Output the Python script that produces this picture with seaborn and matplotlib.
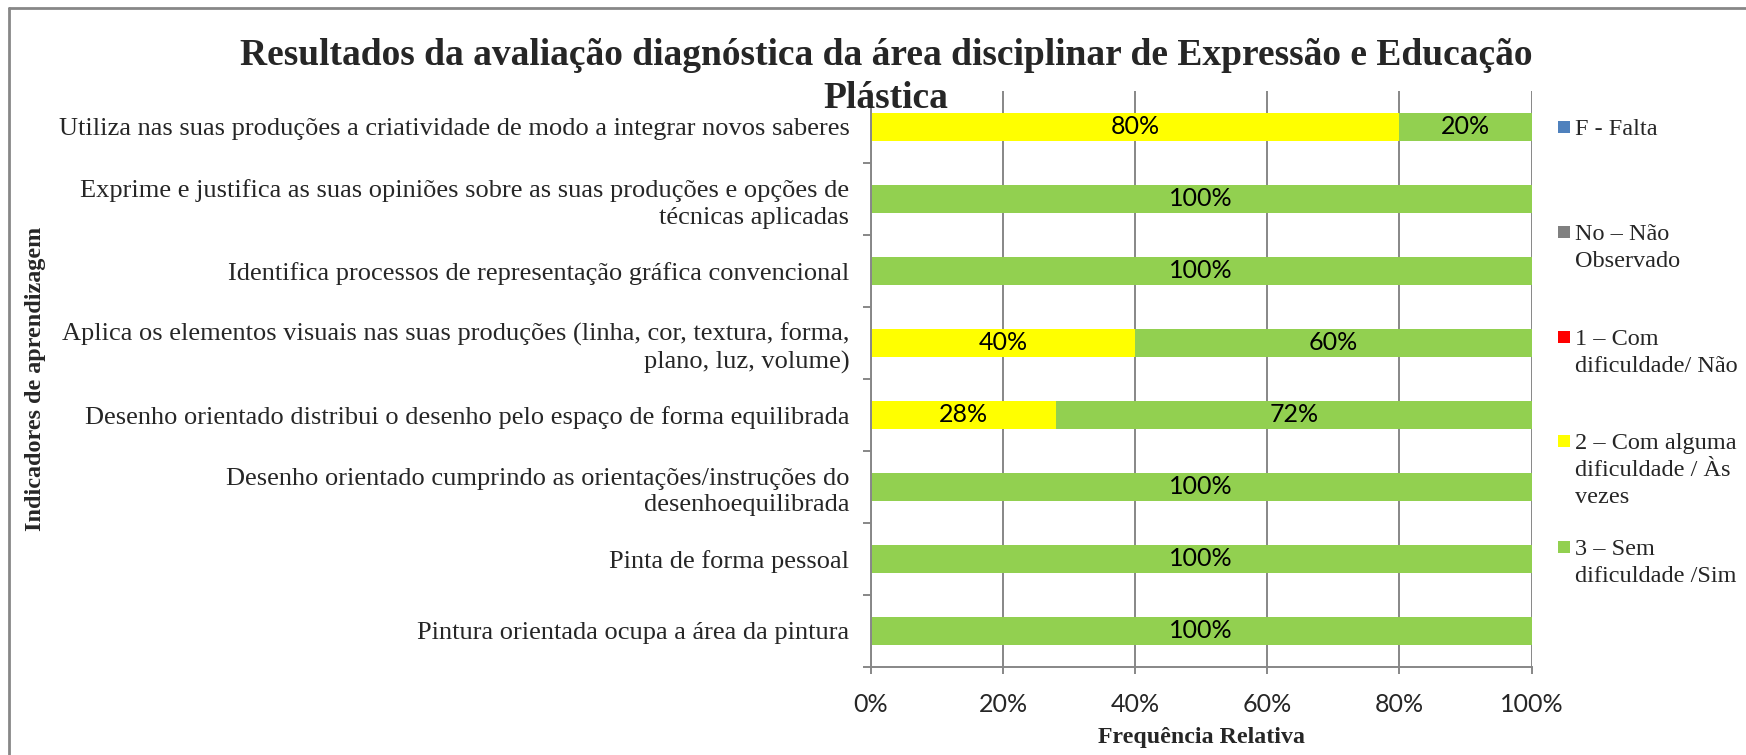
import matplotlib
matplotlib.use("Agg")
import matplotlib.pyplot as plt
import seaborn as sns
import numpy as np
import pandas as pd
from matplotlib.lines import Line2D
from matplotlib.patches import Rectangle

# ---------------- data ----------------
title = "Resultados da avaliação diagnóstica da área disciplinar de Expressão e Educação\nPlástica"
categories = [
    "Utiliza nas suas produções a criatividade de modo a integrar novos saberes",
    "Exprime e justifica as suas opiniões sobre as suas produções e opções de\ntécnicas aplicadas",
    "Identifica processos de representação gráfica convencional",
    "Aplica os elementos visuais nas suas produções (linha, cor, textura, forma,\nplano, luz, volume)",
    "Desenho orientado distribui o desenho pelo espaço de forma equilibrada",
    "Desenho orientado cumprindo as orientações/instruções do\ndesenhoequilibrada",
    "Pinta de forma pessoal",
    "Pintura orientada ocupa a área da pintura",
]
series_names = [
    "F - Falta",
    "No – Não\nObservado",
    "1 – Com\ndificuldade/ Não",
    "2 – Com alguma\ndificuldade / Às\nvezes",
    "3 – Sem\ndificuldade /Sim",
]
falta = [0, 0, 0, 0, 0, 0, 0, 0]
nao_observado = [0, 0, 0, 0, 0, 0, 0, 0]
com_dificuldade = [0, 0, 0, 0, 0, 0, 0, 0]
alguma_dificuldade = [80, 0, 0, 40, 28, 0, 0, 0]
sem_dificuldade = [20, 100, 100, 60, 72, 100, 100, 100]
x_ticks = [0, 20, 40, 60, 80, 100]
x_label = "Frequência Relativa"
y_label = "Indicadores de aprendizagem"

colors = ["#4F81BD", "#808080", "#FF0000", "#FFFF00", "#92D050"]

# ---------------- style ----------------
sns.set_style("white")
SERIF = ["Liberation Serif", "DejaVu Serif"]
SANS = ["Liberation Sans Narrow", "Lato", "DejaVu Sans"]
plt.rcParams["font.family"] = SERIF
GRAY = "#878787"

series = [falta, nao_observado, com_dificuldade, alguma_dificuldade, sem_dificuldade]
df = pd.DataFrame({"Indicador": categories})
cum = np.zeros(len(categories))
for name, vals in zip(series_names, series):
    cum = cum + np.array(vals, dtype=float)
    df[name] = cum.copy()

W, H = 1746, 755
fig = plt.figure(figsize=(W / 100, H / 100), dpi=100)
ax = fig.add_axes([871 / W, 1 - 667 / H, 660.5 / W, 576 / H])

# stacked bars: draw cumulative totals from outermost to innermost
for name, col in reversed(list(zip(series_names, colors))):
    sns.barplot(data=df, x=name, y="Indicador", color=col, saturation=1,
                width=0.4, orient="h", errorbar=None, ax=ax,
                edgecolor="none", linewidth=0, zorder=2)

# segment labels
for i in range(len(categories)):
    start = 0.0
    for vals in series:
        v = vals[i]
        if v > 0:
            ax.text(start + v / 2, i, f"{v}%", ha="center", va="center",
                    fontsize=18, family=SANS, color="black", zorder=3)
        start += v

ax.set_xlim(0, 100)
ax.set_ylim(len(categories) - 0.5, -0.5)
ax.set_xticks(x_ticks)
ax.set_xticklabels([f"{t}%" for t in x_ticks], family=SANS, fontsize=18)
ax.set_yticks(range(len(categories)))
ax.set_yticklabels(categories, fontsize=19.0, linespacing=1.27)
ax.set_yticks(np.arange(-0.5, len(categories), 1.0), minor=True)
ax.tick_params(axis="y", which="major", length=0, pad=15.5)
ax.tick_params(axis="y", which="minor", length=6, width=1.4, color=GRAY, left=True)
ax.tick_params(axis="x", which="major", length=5, width=1.4, color=GRAY, pad=14, bottom=True)

ax.grid(axis="x", color=GRAY, linewidth=1.4, zorder=0)
ax.grid(axis="y", visible=False)
ax.set_axisbelow(True)
for s in ["top", "right"]:
    ax.spines[s].set_visible(False)
for s in ["left", "bottom"]:
    ax.spines[s].set_color(GRAY)
    ax.spines[s].set_linewidth(1.4)

ax.set_xlabel(x_label, fontsize=17.2, fontweight="bold")
ax.xaxis.set_label_coords(0.5, -0.123)
ax.xaxis.label.set_va("center")
ax.set_ylabel(y_label, fontsize=17.4, fontweight="bold")
ax.yaxis.set_label_coords((36 - 871) / 660.5, 0.5)
ax.yaxis.label.set_va("center")

fig.text(886 / W, 1 - 77 / H, title, ha="center", va="center",
         fontsize=27, fontweight="bold", linespacing=1.28)

# legend (drawn entry by entry, first line aligned with the marker)
leg_y = [127, 232, 337, 441, 547]
for name, col, yy in zip(series_names, colors, leg_y):
    fig.add_artist(Rectangle(((1558) / W, 1 - (yy + 6) / H), 12 / W, 12 / H,
                             transform=fig.transFigure, facecolor=col, edgecolor="none"))
    fig.text(1575 / W, 1 - (yy - 8) / H, name, ha="left", va="top",
             fontsize=17.5, linespacing=1.36)

# chart border (top and left visible)
fig.add_artist(Line2D([9 / W, 1.0], [1 - 8 / H, 1 - 8 / H], transform=fig.transFigure,
                      color=GRAY, linewidth=2))
fig.add_artist(Line2D([9 / W, 9 / W], [0, 1 - 8 / H], transform=fig.transFigure,
                      color=GRAY, linewidth=2))

fig.savefig("out.png", dpi=100)
